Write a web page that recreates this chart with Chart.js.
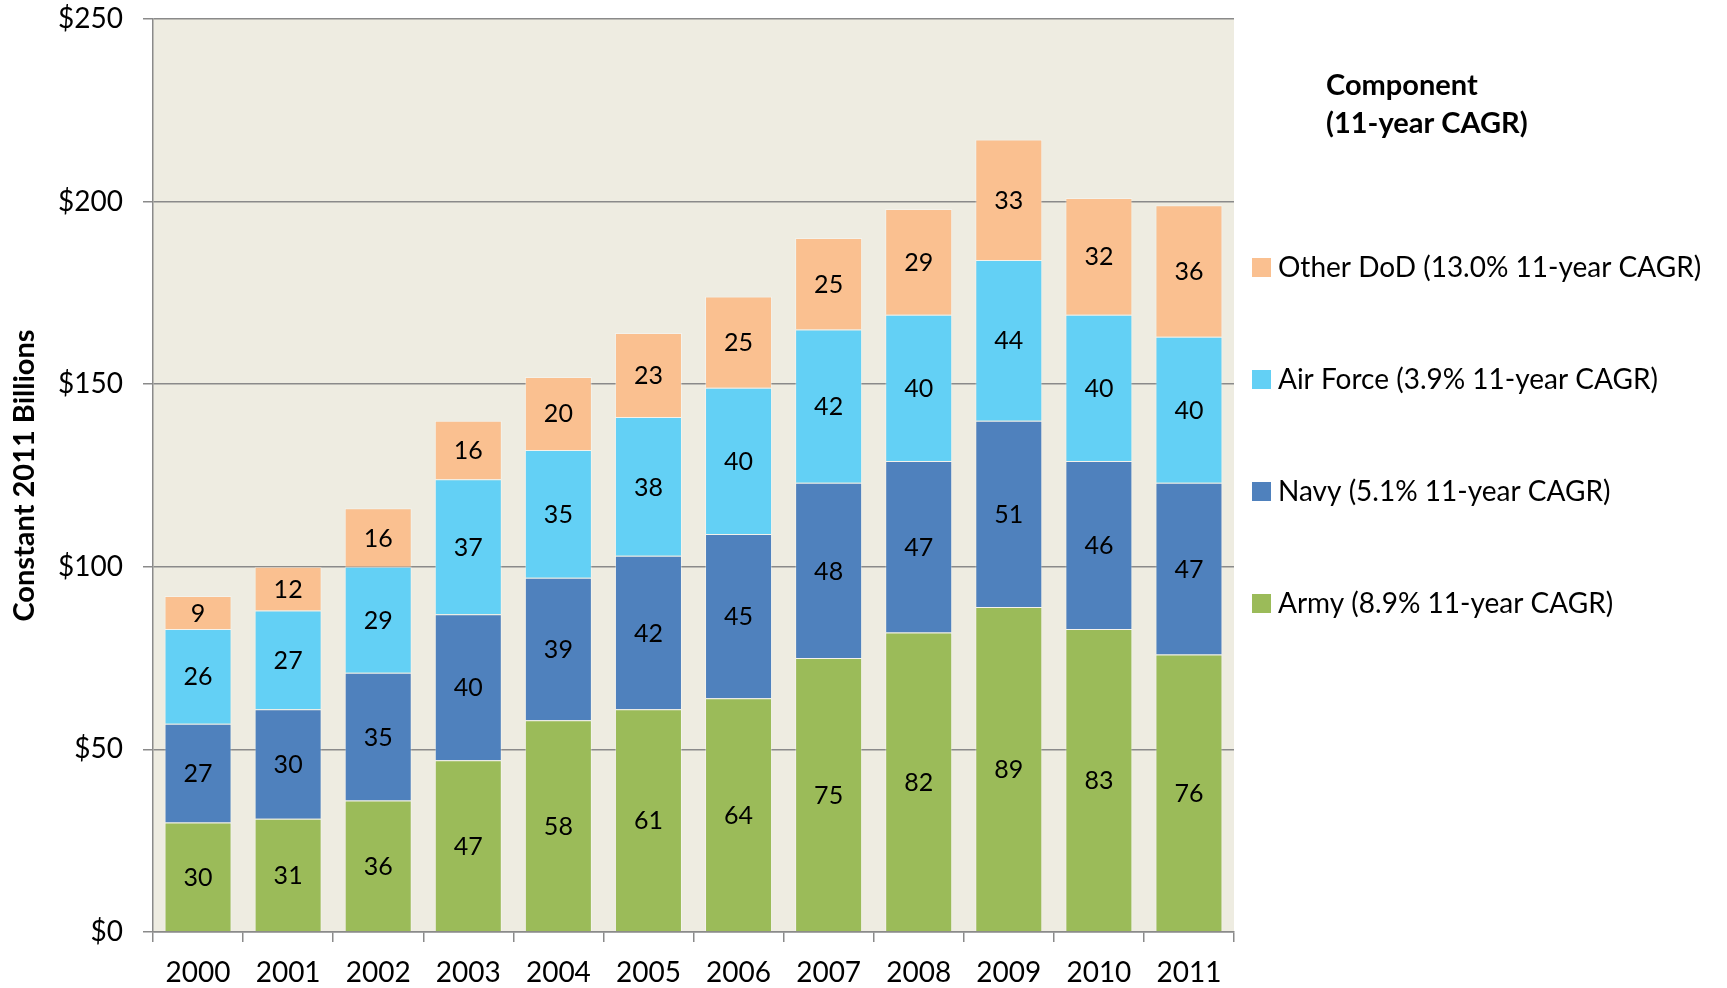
<!DOCTYPE html>
<html>
<head>
<meta charset="utf-8">
<title>DoD components, constant 2011 billions</title>
<script src="https://cdn.jsdelivr.net/npm/chart.js@4"></script>
<style>
  html, body { margin: 0; padding: 0; background: #fff; }
  #wrap { width: 1727px; height: 988px; }
</style>
</head>
<body>
<div id="wrap"><canvas id="componentChart"></canvas></div>
<script>
// values
const years = ["2000", "2001", "2002", "2003", "2004", "2005", "2006", "2007", "2008", "2009", "2010", "2011"];
const army = [30, 31, 36, 47, 58, 61, 64, 75, 82, 89, 83, 76];
const navy = [27, 30, 35, 40, 39, 42, 45, 48, 47, 51, 46, 47];
const airForce = [26, 27, 29, 37, 35, 38, 40, 42, 40, 44, 40, 40];
const otherDod = [9, 12, 16, 16, 20, 23, 25, 25, 29, 33, 32, 36];

const seriesNames = [
  "Army (8.9% 11-year CAGR)",
  "Navy (5.1% 11-year CAGR)",
  "Air Force (3.9% 11-year CAGR)",
  "Other DoD (13.0% 11-year CAGR)",
];
const seriesColors = ["#9BBB59", "#4F81BD", "#63D0F5", "#FAC090"];
const legendTitle = ["Component", "(11-year CAGR)"];

const FONT = "Lato, 'Open Sans', sans-serif";

// paint the tan plot area before the bars
const plotBackground = {
  id: "plotBackground",
  beforeDraw(chart) {
    const { ctx, chartArea } = chart;
    ctx.save();
    ctx.fillStyle = "#EEECE1";
    ctx.fillRect(chartArea.left, chartArea.top, chartArea.right - chartArea.left, chartArea.bottom - chartArea.top);
    ctx.restore();
  },
};

// number in the middle of each segment
const segmentLabels = {
  id: "segmentLabels",
  afterDatasetsDraw(chart) {
    const ctx = chart.ctx;
    ctx.save();
    ctx.font = "25px " + FONT;
    ctx.fillStyle = "#000";
    ctx.textAlign = "center";
    ctx.textBaseline = "middle";
    chart.data.datasets.forEach((ds, i) => {
      chart.getDatasetMeta(i).data.forEach((bar, j) => {
        const p = bar.getProps(["x", "y", "base"], true);
        ctx.fillText(ds.data[j], p.x, (p.y + p.base) / 2 + 1);
      });
    });
    ctx.restore();
  },
};

// legend on the right, top series first, with a two line title
const sideLegend = {
  id: "sideLegend",
  afterDraw(chart) {
    const ctx = chart.ctx;
    const boxX = chart.chartArea.right + 18;
    ctx.save();
    ctx.fillStyle = "#000";
    ctx.textBaseline = "middle";
    ctx.font = "bold 29px " + FONT;
    legendTitle.forEach((line, k) => ctx.fillText(line, boxX + 74, 86 + k * 38));
    ctx.font = "28px " + FONT;
    const items = chart.data.datasets.slice().reverse();
    items.forEach((ds, k) => {
      const y = 267 + k * 112;
      ctx.fillStyle = ds.backgroundColor;
      ctx.fillRect(boxX, y - 9, 19, 19);
      ctx.fillStyle = "#000";
      ctx.fillText(ds.label, boxX + 26, y + 1);
    });
    ctx.restore();
  },
};

const datasets = [army, navy, airForce, otherDod].map((vals, i) => ({
  label: seriesNames[i],
  data: vals,
  backgroundColor: seriesColors[i],
  borderColor: "rgba(255,255,255,0.35)",
  borderWidth: 1,
  categoryPercentage: 0.744,
  barPercentage: 1,
}));

new Chart(document.getElementById("componentChart"), {
  type: "bar",
  data: { labels: years, datasets: datasets },
  plugins: [plotBackground, segmentLabels, sideLegend],
  options: {
    responsive: true,
    maintainAspectRatio: false,
    animation: false,
    layout: { padding: { top: 19, right: 493, bottom: 0, left: 0 } },
    plugins: {
      legend: { display: false },
      tooltip: { enabled: false },
    },
    scales: {
      x: {
        stacked: true,
        offset: true,
        grid: { display: true, drawOnChartArea: false, offset: true, tickLength: 10, color: "#8a8a8a", lineWidth: 1.5 },
        border: { color: "#8a8a8a", width: 1.5 },
        ticks: { color: "#000", font: { family: FONT, size: 28 }, padding: 14, maxRotation: 0 },
        afterFit: (scale) => { scale.height = 56; },
      },
      y: {
        stacked: true,
        min: 0,
        max: 250,
        grid: { color: "#8a8a8a", lineWidth: 1.5, tickLength: 10 },
        border: { color: "#8a8a8a", width: 1.5 },
        ticks: {
          stepSize: 50,
          color: "#000",
          padding: 20,
          font: { family: FONT, size: 28 },
          callback: (v) => "$" + v,
        },
        title: {
          display: true,
          text: "Constant 2011 Billions",
          color: "#000",
          font: { family: FONT, size: 29, weight: "bold" },
          padding: { top: 7, bottom: 0 },
        },
        afterFit: (scale) => {
          scale.width = 153;
          scale.paddingTop = 0;
          scale.paddingBottom = 0;
        },
      },
    },
  },
});
</script>
</body>
</html>
